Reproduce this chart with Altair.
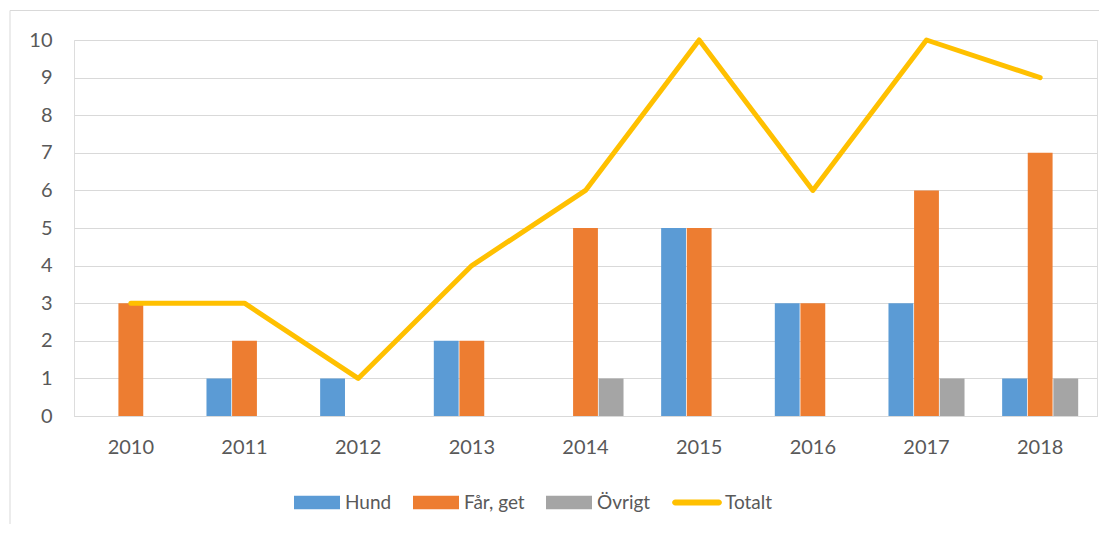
import altair as alt
import pandas as pd

years = ["2010", "2011", "2012", "2013", "2014", "2015", "2016", "2017", "2018"]
hund = [0, 1, 1, 2, 0, 5, 3, 3, 1]
far_get = [3, 2, 0, 2, 5, 5, 3, 6, 7]
ovrigt = [0, 0, 0, 0, 1, 0, 0, 1, 1]
totalt = [3, 3, 1, 4, 6, 10, 6, 10, 9]
series = ["Hund", "Får, get", "Övrigt", "Totalt"]
colors = ["#5B9BD5", "#ED7D31", "#A5A5A5", "#FFC000"]
y_ticks = [0, 1, 2, 3, 4, 5, 6, 7, 8, 9, 10]

rows = []
for name, vals in zip(series[:3], [hund, far_get, ovrigt]):
    for yr, v in zip(years, vals):
        rows.append({"År": yr, "Serie": name, "Antal": v})
bars_df = pd.DataFrame(rows)
line_df = pd.DataFrame({"År": years, "Serie": ["Totalt"] * len(years), "Antal": totalt})
all_df = pd.concat([bars_df, line_df], ignore_index=True)

FONT = "Lato"
TXT = "#595959"
GRID = "#D9D9D9"

x_scale = alt.Scale(domain=years, paddingInner=0.331, paddingOuter=0.1655)
y_scale = alt.Scale(domain=[0, 10], nice=False)
color_scale = alt.Scale(domain=series, range=colors)

x_axis = alt.Axis(title=None, labelFontSize=20, labelColor=TXT, labelFont=FONT,
                  ticks=False, domainColor=GRID, domainWidth=1, labelPadding=21,
                  labelAngle=0, grid=False)
y_axis = alt.Axis(title=None, values=y_ticks, labelFontSize=20, labelColor=TXT,
                  labelFont=FONT, ticks=False, domain=False, gridColor=GRID,
                  gridWidth=1, labelPadding=22, labelOverlap=False)

rect_path = "M-1,-0.29H1V0.29H-1Z"
line_path = "M-0.95,-0.13H0.95A0.13,0.13 0 0 1 0.95,0.13H-0.95A0.13,0.13 0 0 1 -0.95,-0.13Z"
shapes = [rect_path, rect_path, rect_path, line_path]

legend_props = dict(title=None, orient="none", legendX=220, legendY=439.5, direction="horizontal",
                    padding=0, labelFontSize=19, labelFont=FONT, labelColor=TXT,
                    symbolSize=2116, symbolStrokeWidth=0, labelOffset=5, columnPadding=21,
                    symbolOpacity=1)


def x_enc():
    return alt.X("År:N", scale=x_scale, axis=x_axis, sort=years)


def y_enc():
    return alt.Y("Antal:Q", scale=y_scale, axis=y_axis)


def c_enc():
    return alt.Color("Serie:N", scale=color_scale, legend=alt.Legend(**legend_props))


bars = alt.Chart(bars_df).mark_bar().encode(
    x=x_enc(),
    xOffset=alt.XOffset("Serie:N", scale=alt.Scale(domain=series[:3], paddingInner=0.03)),
    y=y_enc(),
    color=c_enc(),
)

line = alt.Chart(line_df).mark_line(strokeWidth=5, strokeCap="round", strokeJoin="round").encode(
    x=x_enc(),
    y=y_enc(),
    color=c_enc(),
)

legend_layer = alt.Chart(all_df).mark_point(filled=True, opacity=0).encode(
    x=x_enc(),
    y=y_enc(),
    color=c_enc(),
    shape=alt.Shape("Serie:N", scale=alt.Scale(domain=series, range=shapes),
                    legend=alt.Legend(**legend_props)),
)

border_df = pd.DataFrame({"k": [0]})
border_top = alt.Chart(border_df).mark_rule(color=GRID, strokeWidth=1).encode(
    x=alt.value(-64), x2=alt.value(1025), y=alt.value(-29.5)
)
border_left = alt.Chart(border_df).mark_rule(color=GRID, strokeWidth=1).encode(
    x=alt.value(-64), y=alt.value(-29.5), y2=alt.value(484)
)

chart = alt.layer(bars, line, legend_layer, border_top, border_left).properties(
    width=1023, height=376,
    padding={"left": 1, "top": 2, "right": 0, "bottom": 0},
).configure_view(stroke=None).configure(background="white")

chart.save("out.html", embed_options={"renderer": "svg", "actions": False})
